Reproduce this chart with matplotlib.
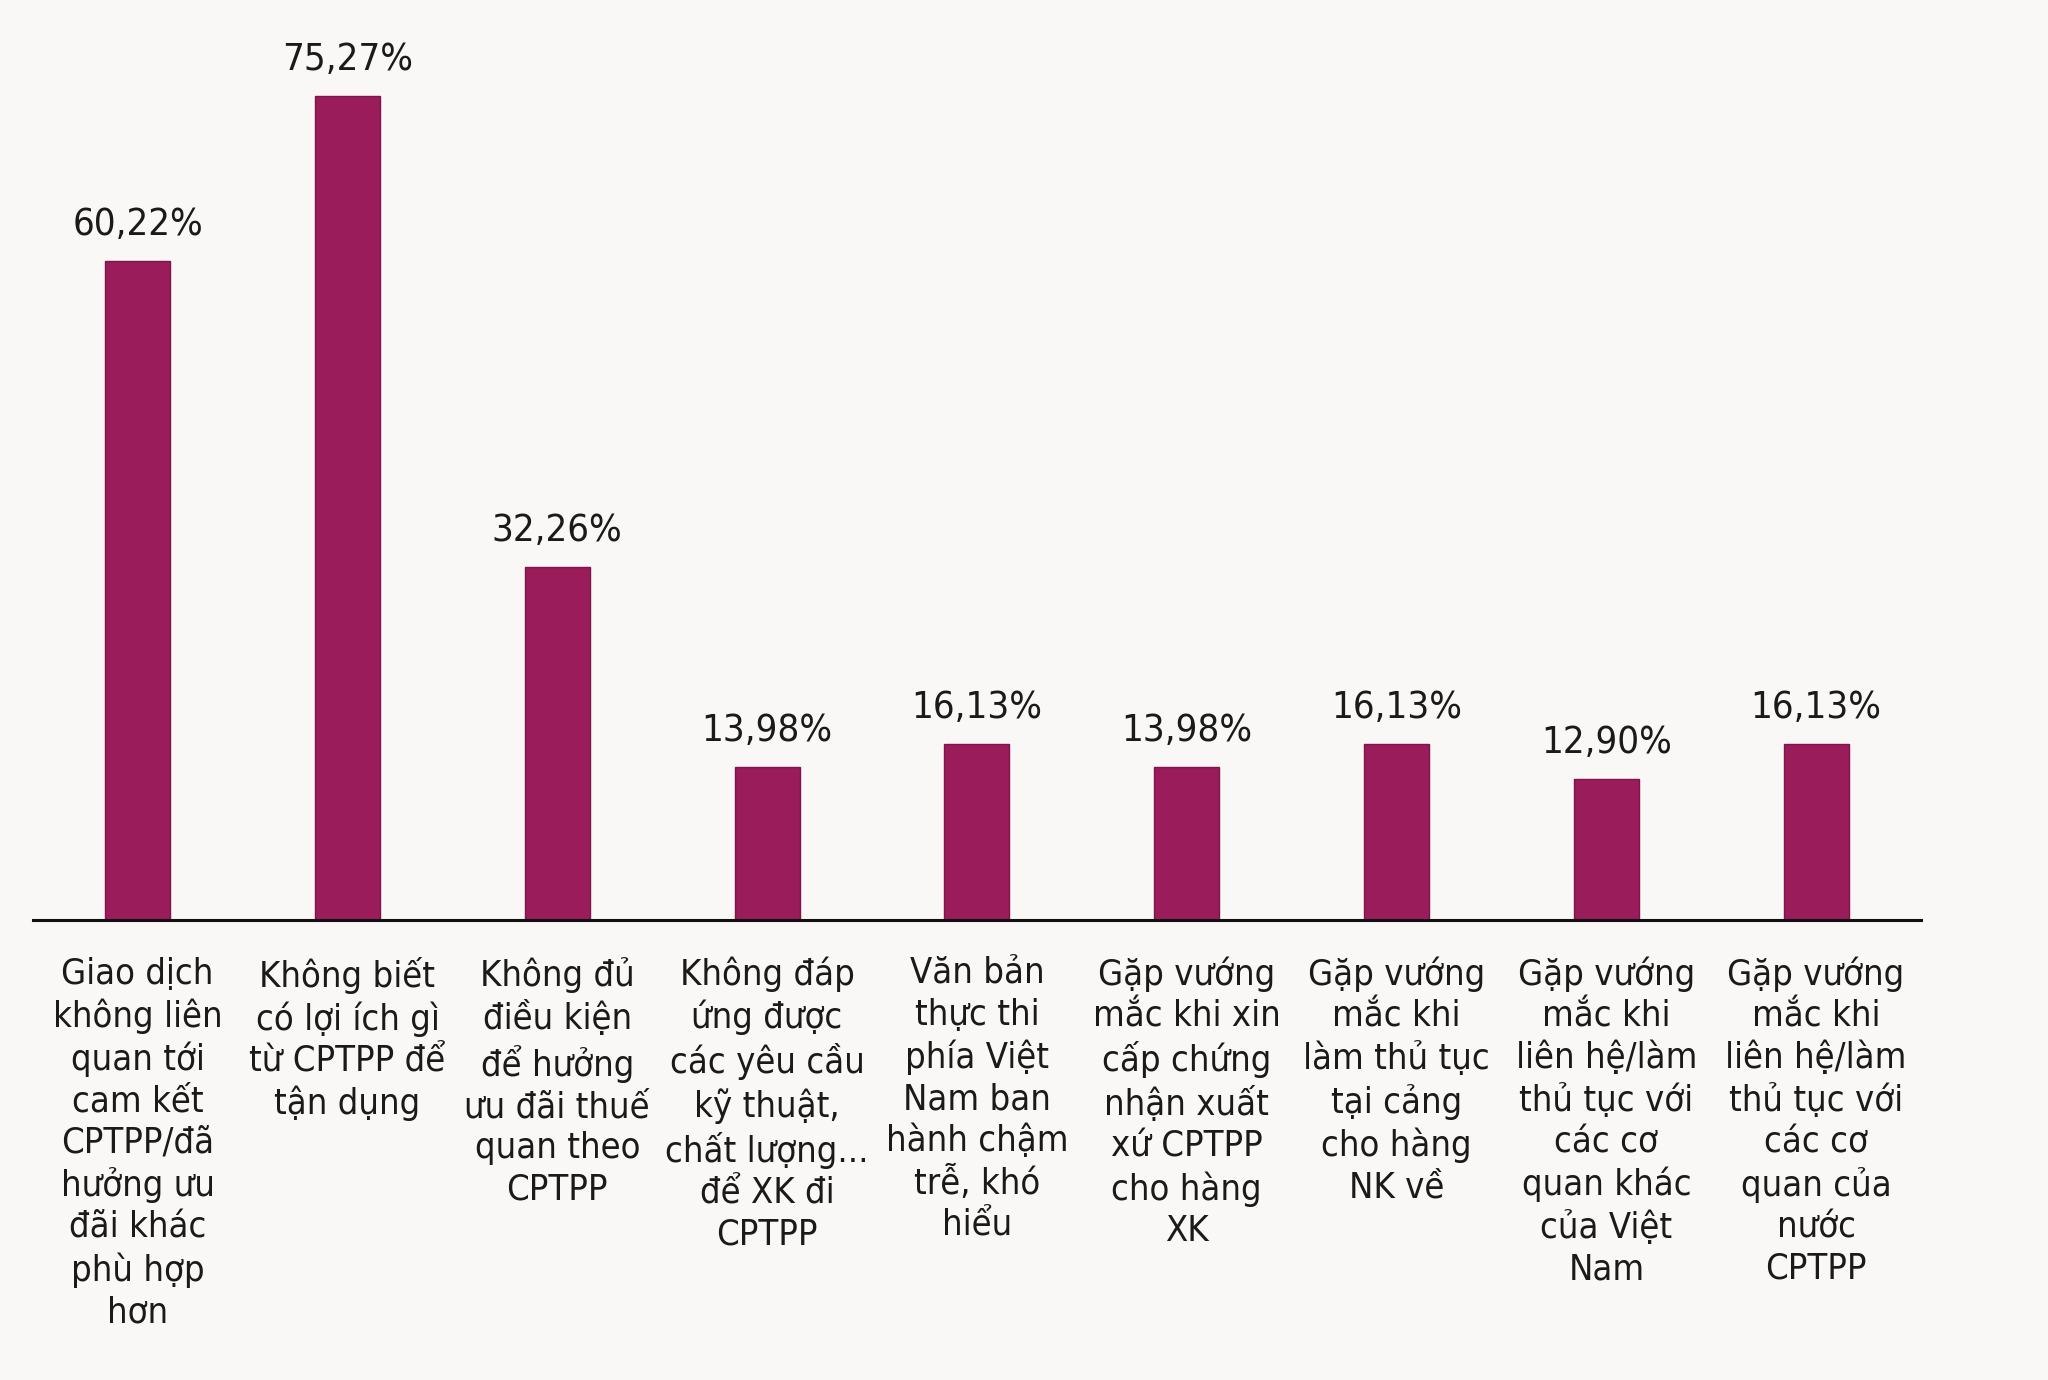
import matplotlib
matplotlib.use("Agg")
import matplotlib.pyplot as plt

categories = [
    "Giao dịch\nkhông liên\nquan tới\ncam kết\nCPTPP/đã\nhưởng ưu\nđãi khác\nphù hợp\nhơn",
    "Không biết\ncó lợi ích gì\ntừ CPTPP để\ntận dụng",
    "Không đủ\nđiều kiện\nđể hưởng\nưu đãi thuế\nquan theo\nCPTPP",
    "Không đáp\nứng được\ncác yêu cầu\nkỹ thuật,\nchất lượng...\nđể XK đi\nCPTPP",
    "Văn bản\nthực thi\nphía Việt\nNam ban\nhành chậm\ntrễ, khó\nhiểu",
    "Gặp vướng\nmắc khi xin\ncấp chứng\nnhận xuất\nxứ CPTPP\ncho hàng\nXK",
    "Gặp vướng\nmắc khi\nlàm thủ tục\ntại cảng\ncho hàng\nNK về",
    "Gặp vướng\nmắc khi\nliên hệ/làm\nthủ tục với\ncác cơ\nquan khác\ncủa Việt\nNam",
    "Gặp vướng\nmắc khi\nliên hệ/làm\nthủ tục với\ncác cơ\nquan của\nnước\nCPTPP",
]
values = [60.22, 75.27, 32.26, 13.98, 16.13, 13.98, 16.13, 12.90, 16.13]
value_labels = ["60,22%", "75,27%", "32,26%", "13,98%", "16,13%", "13,98%", "16,13%", "12,90%", "16,13%"]

bar_color = "#9a1c5a"
bg = "#f9f8f6"

fam = ["Liberation Sans Narrow", "DejaVu Sans"]
plt.rcParams['font.family'] = fam
plt.rcParams['font.stretch'] = 'condensed'

fig = plt.figure(figsize=(20.48, 13.8), dpi=100, facecolor=bg)
ax = fig.add_axes([0.016, 0.333, 0.922, 0.667])
ax.set_facecolor(bg)

x = list(range(len(values)))
ax.bar(x, values, width=0.31, color=bar_color, edgecolor="#7e1549", linewidth=1)

for xi, v, lab in zip(x, values, value_labels):
    ax.annotate(lab, (xi, v), xytext=(0, 13), textcoords="offset points",
                ha="center", va="bottom", fontsize=27.5, color="#1a1a1a")

ax.set_xlim(-0.5, 8.5)
ax.set_ylim(0, 84)
ax.set_yticks([])
ax.set_xticks(x)
ax.set_xticklabels(categories, fontsize=26, color="#1a1a1a", linespacing=1.27)
ax.tick_params(axis="x", length=0, pad=26)
for s in ["top", "right", "left"]:
    ax.spines[s].set_visible(False)
ax.spines["bottom"].set_linewidth(2.2)
ax.spines["bottom"].set_color("#111111")

fig.savefig("out.png", dpi=100, facecolor=bg)
